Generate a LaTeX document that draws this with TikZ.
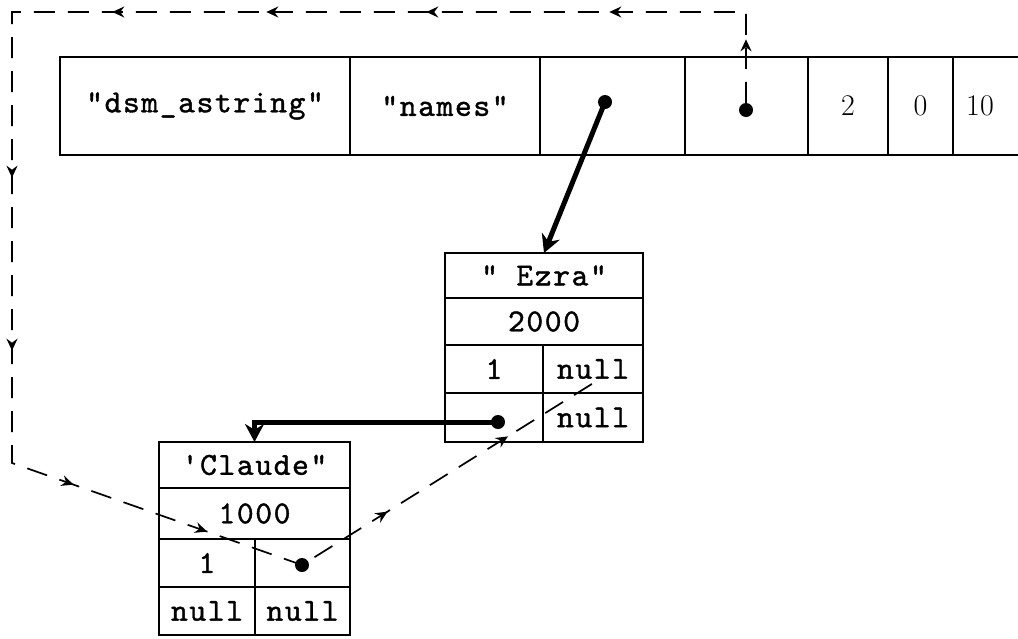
\documentclass[tikz,border=0pt]{standalone}
\usepackage{fontspec}
\newfontfamily\tapefont{lmmono10-regular.otf}[LetterSpace=5,FakeBold=1.2]
\usetikzlibrary{arrows.meta, decorations.markings}

\begin{document}
\begin{tikzpicture}[x=1pt,y=1pt,yscale=-1,
  cell/.style={draw, line width=2.8pt, inner sep=0pt, outer sep=0pt, font=\fontsize{32}{32}\selectfont\tapefont},
  numcell/.style={cell, font=\fontsize{30}{30}\selectfont\rmfamily},
  dot/.style={circle, fill, inner sep=0pt, minimum size=14pt},
  ptr/.style={line width=5pt, -{Stealth[length=18pt,width=19pt]}},
  link/.style={line width=1.7pt, dash pattern=on 21pt off 13pt},
  flow/.style={postaction={decorate, decoration={markings, mark=at position #1 with {\arrow{Stealth[length=12pt,width=11pt,inset=4pt]}}}}}]
\useasboundingbox (0,0) rectangle (1018,638);

%Descriptor row
\node[cell, minimum width=290pt, minimum height=98pt] (dsname) at (205,106) {"dsm\_astring"};
\node[cell, minimum width=190pt, minimum height=98pt] (tagname) at (445,106) {"names"};
\node[cell, minimum width=145pt, minimum height=98pt] (first) at (612.5,106) {};
\node[cell, minimum width=123pt, minimum height=98pt] (cur) at (746.5,106) {};
\node[numcell, minimum width=80pt, minimum height=98pt] (count) at (848,106) {2};
\node[numcell, minimum width=65pt, minimum height=98pt] (pos) at (920.5,106) {0};
\node[font=\fontsize{30}{30}\selectfont\rmfamily] (lim) at (980,106) {10};
\draw[line width=2.8pt] (pos.north east) -- ++(70,0);
\draw[line width=2.8pt] (pos.south east) -- ++(70,0);

%Record "Ezra"
\node[cell, minimum width=198pt, minimum height=45pt] (ezname) at (544,275.5) {" Ezra"};
\node[cell, minimum width=198pt, minimum height=47pt] (ezval) at (544,321.5) {2000};
\node[cell, minimum width=98pt, minimum height=48pt] (ezcnt) at (494,369) {1};
\node[cell, minimum width=100pt, minimum height=48pt] (eznexta) at (593,369) {null};
\node[cell, minimum width=98pt, minimum height=49pt] (ezlink) at (494,417.5) {};
\node[cell, minimum width=100pt, minimum height=49pt] (eznextb) at (593,417.5) {null};

%Record "Claude"
\node[cell, minimum width=191pt, minimum height=46pt] (clname) at (254.5,465) {'Claude"};
\node[cell, minimum width=191pt, minimum height=51pt] (clval) at (254.5,513.5) {1000};
\node[cell, minimum width=96pt, minimum height=48pt] (clcnt) at (207,563) {1};
\node[cell, minimum width=95pt, minimum height=48pt] (cllink) at (302.5,563) {};
\node[cell, minimum width=96pt, minimum height=48pt] (clnexta) at (207,611) {null};
\node[cell, minimum width=95pt, minimum height=48pt] (clnextb) at (302.5,611) {null};

%Pointer dots
\node[dot] (firstdot) at (605,102) {};
\node[dot] (curdot) at (746,110) {};
\node[dot] (ezdot) at (498,422) {};
\node[dot] (cldot) at (302,565) {};

\coordinate (tl) at (12,12);
\coordinate (bl) at (12,463);
\coordinate (runend) at (595,382);

%Solid pointers
\draw[ptr] (firstdot.center) -- (ezname.north);
\draw[ptr] (ezdot.center) -| (clname.north);

%Dashed traversal
\draw[link, flow/.list={63.5pt,227.5pt,410.5pt,570.5pt,724.5pt,990.5pt,1163.5pt,1341pt,1482.5pt,1684pt,1826pt}]
  (curdot.north) |- (tl) -- (bl) -- (cldot.center) -- (runend);

\end{tikzpicture}
\end{document}
